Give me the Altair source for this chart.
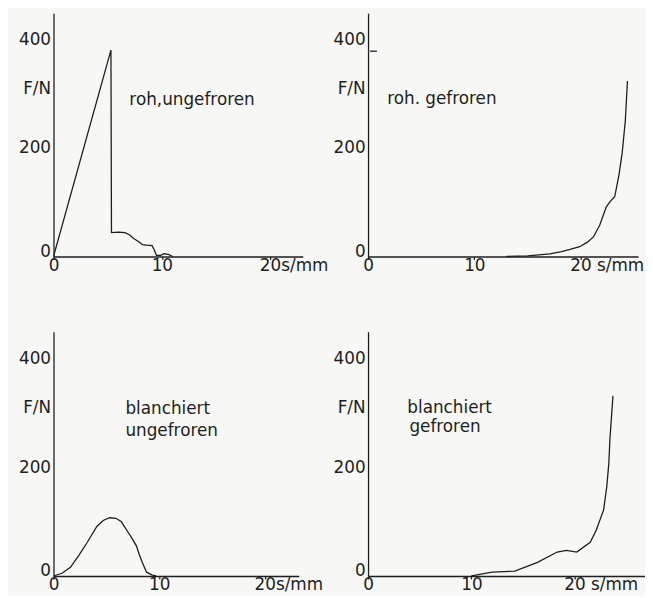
import altair as alt
import pandas as pd

INK = "#1e1e1e"
FONT = "DejaVu Sans"
FS = 17

# tick values
X_TICKS = [0, 10, 20]
Y_TICKS = [0, 200, 400]
FN_POS = 310  # height of the "F/N" label on the force axis

# roh, ungefroren
p1_x = [0, 5.3, 5.35, 6.0, 6.6, 7.0, 7.4, 7.8, 8.2, 8.6, 9.1, 9.3, 9.5, 9.9, 10.2, 10.6, 11.0]
p1_y = [0, 380, 44, 45, 44, 40, 33, 28, 22, 21, 20, 12, 2, 2, 5, 4, 0]

# roh, gefroren
p2_x = [13, 15, 17.1, 18.2, 19.0, 19.9, 20.6, 21.2, 21.8, 22.4, 22.8, 23.2, 23.6, 23.9, 24.2, 24.4]
p2_y = [0, 1, 5, 9, 13, 18, 26, 36, 58, 91, 102, 110, 150, 190, 250, 323]
p2_mark_y = [378]  # short reference dash on the force axis

# blanchiert, ungefroren
p3_x = [0, 0.8, 1.6, 2.4, 3.2, 4.1, 4.7, 5.3, 5.9, 6.4, 6.9, 7.4, 7.85, 8.1, 8.4, 8.8, 9.3, 9.7]
p3_y = [0, 5, 16, 38, 62, 91, 102, 107, 106, 100, 85, 70, 55, 40, 25, 7, 2, 0]

# blanchiert, gefroren
p4_x = [10, 12.0, 14.2, 16.4, 18.3, 19.2, 20.2, 21.5, 22.1, 22.8, 23.1, 23.3, 23.4, 23.7]
p4_y = [0, 7, 9, 25, 44, 47, 44, 62, 85, 122, 164, 207, 250, 331]

# annotation text (x, y in data units)
p1_notes = {"x": [7.0], "y": [288], "t": ["roh,ungefroren"]}
p2_notes = {"x": [1.8], "y": [289], "t": ["roh. gefroren"]}
p3_notes = {"x": [6.8, 6.8], "y": [307, 267], "t": ["blanchiert", "ungefroren"]}
p4_notes = {"x": [3.8, 4.0], "y": [309, 273], "t": ["blanchiert", "gefroren"]}


def panel(xs, ys, xmax, ymax, w, h, lab20, notes, mark_y=None):
    xscale = alt.Scale(domain=[0, xmax], nice=False, zero=True)
    yscale = alt.Scale(domain=[0, ymax], nice=False, zero=True)
    xaxis = alt.Axis(
        values=X_TICKS,
        labelExpr=f"datum.value == 20 ? '{lab20}' : datum.label",
        labelAlign={"condition": {"test": "datum.value == 20", "value": "left"}, "value": "center"},
        labelOffset={"condition": {"test": "datum.value == 20", "value": -11}, "value": 0},
        title=None, grid=False, tickSize=3, labelPadding=-2, labelFlush=False,
    )
    yaxis = alt.Axis(
        values=Y_TICKS + [FN_POS],
        labelExpr=f"datum.value == {FN_POS} ? 'F/N' : datum.label",
        labelBaseline={"condition": {"test": "datum.value == 0", "value": "alphabetic"}, "value": "middle"},
        title=None, grid=False, ticks=False, labelPadding=3, labelFlush=False,
    )
    df = pd.DataFrame({"s": xs, "F": ys})
    line = alt.Chart(df).mark_line(color=INK, strokeWidth=1.3).encode(
        x=alt.X("s:Q", scale=xscale, axis=xaxis),
        y=alt.Y("F:Q", scale=yscale, axis=yaxis),
    )
    ann = alt.Chart(pd.DataFrame(notes)).mark_text(
        align="left", baseline="middle", font=FONT, fontSize=FS, color=INK
    ).encode(
        x=alt.X("x:Q", scale=xscale),
        y=alt.Y("y:Q", scale=yscale),
        text="t:N",
    )
    layers = [line, ann]
    if mark_y is not None:
        dash = alt.Chart(pd.DataFrame({"F": mark_y})).mark_rule(color=INK, strokeWidth=1.3).encode(
            x=alt.value(2), x2=alt.value(9), y=alt.Y("F:Q", scale=yscale)
        )
        layers.append(dash)
    return alt.layer(*layers).properties(width=w, height=h)


c1 = panel(p1_x, p1_y, 23.0, 448, 252, 246, "20s/mm", p1_notes)
c2 = panel(p2_x, p2_y, 25.4, 448, 273, 246, "20 s/mm", p2_notes, p2_mark_y)
c3 = panel(p3_x, p3_y, 23.2, 449, 248, 247, "20s/mm", p3_notes)
c4 = panel(p4_x, p4_y, 26.8, 449, 280, 247, "20 s/mm", p4_notes)

chart = alt.concat(
    c1, c2, c3, c4, columns=2, bounds="flush", spacing={"row": 76, "column": 66}
).properties(
    padding={"left": 10, "top": 2, "right": 0, "bottom": 0},
    background="#f7f7f5",
).configure_view(stroke=None).configure_axis(
    domainColor=INK, domainWidth=1.3, tickColor=INK, tickWidth=1.2,
    labelFont=FONT, labelFontSize=FS, labelColor=INK,
)

chart.save("out.html", embed_options={"renderer": "svg", "actions": False})
